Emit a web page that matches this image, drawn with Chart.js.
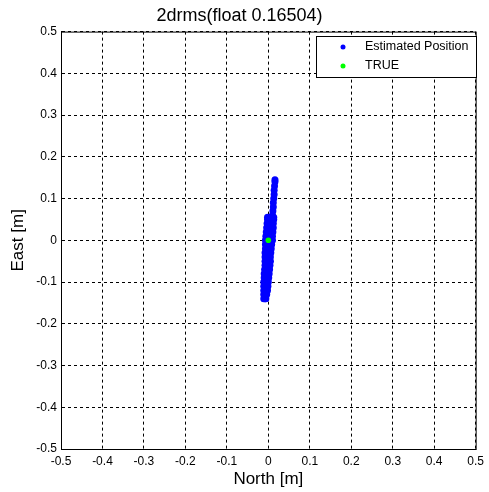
<!DOCTYPE html>
<html>
<head>
<meta charset="utf-8">
<script src="https://cdn.jsdelivr.net/npm/chart.js@4/dist/chart.umd.min.js"></script>
<style>
  html, body { margin: 0; padding: 0; background: #fff; }
  #wrap { width: 489px; height: 492px; }
</style>
</head>
<body>
<div id="wrap"><canvas id="posChart"></canvas></div>
<script>
// estimated positions (north, east in metres)
// upper thin tail
const estNorth = [
  0.016, 0.016, 0.015, 0.014, 0.014, 0.013, 0.012, 0.012, 0.011, 0.010,
  // wider lower body: left, middle, right per row
  -0.002, 0.006, 0.013,
  -0.002, 0.005, 0.013,
  -0.003, 0.004, 0.012,
  -0.004, 0.004, 0.012,
  -0.005, 0.003, 0.011,
  -0.006, 0.002, 0.010,
  -0.007, 0.001, 0.010,
  -0.007, 0.000, 0.008,
  -0.007, 0.000, 0.007,
  -0.008, -0.001, 0.006,
  -0.008, -0.002, 0.005,
  -0.008, -0.002, 0.005,
  -0.008, -0.002, 0.004,
  -0.009, -0.003, 0.003,
  -0.010, -0.004, 0.002,
  -0.010, -0.005, 0.001,
  -0.011, -0.005, 0.000,
  -0.011, -0.006, -0.001,
  -0.011, -0.006, -0.002,
  -0.011, -0.007, -0.004,
  -0.011, -0.008, -0.006
];
const estEast = [
  0.145, 0.140, 0.130, 0.120, 0.110, 0.100, 0.090, 0.080, 0.070, 0.060,
  0.055, 0.055, 0.055,
  0.050, 0.050, 0.050,
  0.040, 0.040, 0.040,
  0.030, 0.030, 0.030,
  0.020, 0.020, 0.020,
  0.010, 0.010, 0.010,
  0.000, 0.000, 0.000,
  -0.010, -0.010, -0.010,
  -0.020, -0.020, -0.020,
  -0.030, -0.030, -0.030,
  -0.040, -0.040, -0.040,
  -0.050, -0.050, -0.050,
  -0.060, -0.060, -0.060,
  -0.070, -0.070, -0.070,
  -0.080, -0.080, -0.080,
  -0.090, -0.090, -0.090,
  -0.100, -0.100, -0.100,
  -0.110, -0.110, -0.110,
  -0.120, -0.120, -0.120,
  -0.130, -0.130, -0.130,
  -0.140, -0.140, -0.140
];
const trueNorth = [0.0];
const trueEast = [0.0];

const tickValues = [-0.5, -0.4, -0.3, -0.2, -0.1, 0, 0.1, 0.2, 0.3, 0.4, 0.5];
const tickLabels = ['-0.5', '-0.4', '-0.3', '-0.2', '-0.1', '0', '0.1', '0.2', '0.3', '0.4', '0.5'];

const FONT = 'Liberation Sans, Arial, sans-serif';

// box around the whole plot area + legend drawn inside like matlab
const boxAndLegend = {
  id: 'boxAndLegend',
  afterDraw(chart) {
    const { ctx, chartArea: a } = chart;
    ctx.save();
    ctx.strokeStyle = '#000';
    ctx.lineWidth = 1;
    ctx.setLineDash([]);
    ctx.strokeRect(a.left + 0.5, a.top + 0.5, a.right - a.left, a.bottom - a.top);

    // legend
    const lx = 316, ly = 36, lw = 160, lh = 41;
    ctx.fillStyle = '#fff';
    ctx.fillRect(lx, ly, lw, lh);
    ctx.strokeRect(lx + 0.5, ly + 0.5, lw, lh);
    ctx.font = '12.5px ' + FONT;
    ctx.textBaseline = 'middle';
    chart.data.datasets.forEach((ds, i) => {
      const y = ly + 11 + i * 19;
      ctx.fillStyle = ds.backgroundColor;
      ctx.beginPath();
      ctx.arc(343, y, 2.5, 0, Math.PI * 2);
      ctx.fill();
      ctx.fillStyle = '#000';
      ctx.fillText(ds.label, 365, y);
    });
    ctx.restore();
  }
};

const ctx = document.getElementById('posChart').getContext('2d');
new Chart(ctx, {
  type: 'scatter',
  data: {
    datasets: [{
      label: 'Estimated Position',
      data: estNorth.map((n, i) => ({ x: n, y: estEast[i] })),
      backgroundColor: '#0000ff',
      borderWidth: 0,
      pointRadius: 3.5,
      order: 2
    }, {
      label: 'TRUE',
      data: trueNorth.map((n, i) => ({ x: n, y: trueEast[i] })),
      backgroundColor: '#00ff00',
      borderWidth: 0,
      pointRadius: 2.8,
      order: 1
    }]
  },
  options: {
    responsive: true,
    maintainAspectRatio: false,
    animation: false,
    layout: { padding: { top: 0, right: 10, left: 0, bottom: 0 } },
    plugins: {
      legend: { display: false },
      tooltip: { enabled: false },
      title: {
        display: true,
        text: '2drms(float 0.16504)',
        color: '#000',
        font: { family: FONT, size: 18, weight: 'normal' },
        padding: { top: 5, bottom: 5 }
      }
    },
    scales: {
      x: {
        type: 'linear',
        min: -0.5, max: 0.5,
        afterBuildTicks: s => { s.ticks = tickValues.map(v => ({ value: v })); },
        afterFit: s => { s.height = 43; },
        ticks: {
          color: '#000',
          font: { family: FONT, size: 12 },
          padding: 5,
          maxRotation: 0,
          callback: (v, i) => tickLabels[i]
        },
        grid: { color: '#000', lineWidth: 1, drawTicks: false },
        border: { display: true, color: '#000', dash: [3, 3] },
        title: {
          display: true,
          text: 'North [m]',
          color: '#000',
          font: { family: FONT, size: 17 },
          padding: { top: 2, bottom: 2 }
        }
      },
      y: {
        type: 'linear',
        min: -0.5, max: 0.5,
        afterBuildTicks: s => { s.ticks = tickValues.map(v => ({ value: v })); },
        afterFit: s => { s.width = 61; },
        ticks: {
          color: '#000',
          font: { family: FONT, size: 12 },
          padding: 4,
          callback: (v, i) => tickLabels[i]
        },
        grid: { color: '#000', lineWidth: 1, drawTicks: false },
        border: { display: true, color: '#000', dash: [3, 3] },
        title: {
          display: true,
          text: 'East [m]',
          color: '#000',
          font: { family: FONT, size: 17 },
          padding: { top: 8, bottom: 4 }
        }
      }
    }
  },
  plugins: [boxAndLegend]
});
</script>
</body>
</html>
